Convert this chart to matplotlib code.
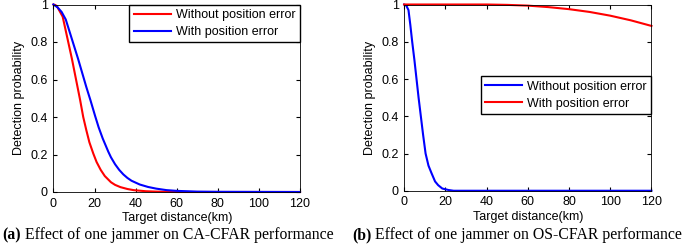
import matplotlib.pyplot as plt
import numpy as np

plt.rcParams['font.family'] = ['Liberation Sans', 'DejaVu Sans']

# Panel (a): CA-CFAR, detection probability vs target distance (km)
a_dist_wo = [0, 1, 2, 3, 4.5, 7, 9, 11, 13, 14.5, 16, 17.5, 19.4, 21, 23, 25, 28, 30, 32.6,
             36, 39, 45, 50, 60, 120]
a_pd_wo = [1, 0.997, 0.985, 0.965, 0.935, 0.81, 0.71, 0.6, 0.49, 0.4, 0.33, 0.265, 0.205,
           0.16, 0.118, 0.085, 0.052, 0.038, 0.026, 0.016, 0.01, 0.004, 0.002, 0, 0]
a_dist_w = [0, 2, 4, 6, 8, 10, 12, 14, 16, 18, 20.3, 22, 24, 26.7, 28, 30, 32, 34, 36, 38, 42,
            46, 50, 55, 60, 70, 80, 120]
a_pd_w = [1, 0.985, 0.96, 0.92, 0.85, 0.78, 0.71, 0.635, 0.56, 0.49, 0.405, 0.345, 0.285,
          0.215, 0.185, 0.148, 0.118, 0.094, 0.075, 0.06, 0.04, 0.027, 0.018, 0.01, 0.006,
          0.002, 0.001, 0]

# Panel (b): OS-CFAR
b_dist_wo = [0, 1, 2.1, 3, 3.9, 5, 6, 7, 8.1, 9.2, 10.4, 11.8, 13.3, 15, 16.5, 18.5, 21.5,
             24, 120]
b_pd_wo = [1, 0.995, 0.97, 0.89, 0.8, 0.7, 0.6, 0.5, 0.4, 0.3, 0.2, 0.135, 0.094, 0.05, 0.03,
           0.012, 0.004, 0, 0]
b_dist_w = [0, 20, 40, 50, 60, 70, 80, 90, 100, 110, 120]
b_pd_w = [1, 1, 1, 0.998, 0.994, 0.986, 0.975, 0.96, 0.94, 0.915, 0.885]

labels = ['Without position error', 'With position error']
captions = [("(a)", " Effect of one jammer on CA-CFAR performance"),
            ("(b)", " Effect of one jammer on OS-CFAR performance")]

fig = plt.figure(figsize=(6.85, 2.5), dpi=100)
ax1 = fig.add_axes([0.078, 0.232, 0.360, 0.750])
ax2 = fig.add_axes([0.590, 0.237, 0.361, 0.745])

ax1.plot(a_dist_wo, a_pd_wo, color='red', lw=1.5, label=labels[0], clip_on=False)
ax1.plot(a_dist_w, a_pd_w, color='blue', lw=1.5, label=labels[1], clip_on=False)
ax1.legend(loc='upper right', bbox_to_anchor=(1.0, 1.0), fontsize=9, fancybox=False,
           edgecolor='black', framealpha=1, borderaxespad=0, handlelength=3.0,
           handletextpad=0.4, labelspacing=0.4, borderpad=0.35)

ax2.plot(b_dist_wo, b_pd_wo, color='blue', lw=1.5, label=labels[0], clip_on=False)
ax2.plot(b_dist_w, b_pd_w, color='red', lw=1.5, label=labels[1], clip_on=False)
ax2.legend(loc='upper right', bbox_to_anchor=(1.0, 0.614), fontsize=9, fancybox=False,
           edgecolor='black', framealpha=1, borderaxespad=0, handlelength=3.0,
           handletextpad=0.4, labelspacing=0.4, borderpad=0.35)

for ax in (ax1, ax2):
    ax.set_xlim(0, 120)
    ax.set_ylim(0, 1)
    ax.set_xticks(np.arange(0, 121, 20))
    ax.set_yticks([0, 0.2, 0.4, 0.6, 0.8, 1])
    ax.set_yticklabels(['0', '0.2', '0.4', '0.6', '0.8', '1'])
    ax.tick_params(direction='in', top=True, right=True, labelsize=9, length=3, pad=4)
    ax.set_xlabel('Target distance(km)', fontsize=9, labelpad=2)
    ax.set_ylabel('Detection probability', fontsize=9, labelpad=4)
    for s in ax.spines.values():
        s.set_linewidth(0.6)

# captions below each panel: bold "(a)"/"(b)" followed by plain serif text
for (lab, txt), x0 in zip(captions, [0.003, 0.514]):
    t1 = fig.text(x0, 0.06, lab, fontsize=11.3, family='Liberation Serif',
                  weight='bold', ha='left', va='center')
    fig.canvas.draw()
    bb1 = t1.get_window_extent().transformed(fig.transFigure.inverted())
    fig.text(bb1.x1, 0.06, txt, fontsize=11.3, family='Liberation Serif',
             ha='left', va='center')

fig.savefig('out.png', dpi=100)
